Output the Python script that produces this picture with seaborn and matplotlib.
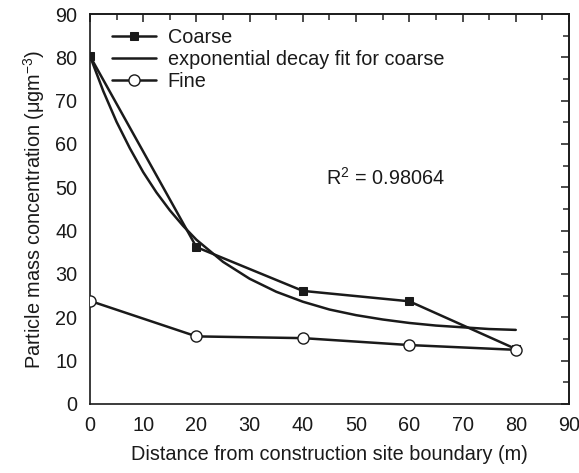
import matplotlib
matplotlib.use("Agg")
import matplotlib.pyplot as plt
from matplotlib.ticker import MultipleLocator
import seaborn as sns

# Measured concentrations vs distance from the site boundary
distance = [0, 20, 40, 60, 80]
coarse = [80.3, 36.2, 26.1, 23.7, 12.7]
fine = [23.8, 15.6, 15.2, 13.6, 12.5]

# Exponential decay fit for the coarse fraction, sampled along distance
fit_distance = [0, 2.5, 5, 7.5, 10, 12.5, 15, 17.5, 20, 25, 30, 35, 40,
                45, 50, 55, 60, 65, 70, 75, 80]
fit_coarse = [80.3, 72.2, 65.1, 59.0, 53.5, 48.8, 44.7, 41.1, 37.9, 32.8,
              28.9, 25.9, 23.6, 21.8, 20.5, 19.5, 18.7, 18.1, 17.7, 17.3, 17.1]

r2_text = "R$^{2}$ = 0.98064"

sns.set_style("white")
plt.rcParams["font.family"] = ["Liberation Sans", "DejaVu Sans"]
plt.rcParams["mathtext.fontset"] = "custom"
plt.rcParams["mathtext.rm"] = "Liberation Sans"
plt.rcParams["mathtext.it"] = "Liberation Sans"

FS = 14.3
INK = "#1a1a1a"

fig = plt.figure(figsize=(5.79, 4.73), dpi=100)
ax = fig.add_axes([0.1554, 0.1459, 0.8273, 0.8245])

lw = 1.8
sns.lineplot(x=distance, y=coarse, ax=ax, color=INK, lw=lw,
             marker="s", markersize=6, markerfacecolor=INK,
             markeredgecolor=INK, label="Coarse", zorder=3)
sns.lineplot(x=fit_distance, y=fit_coarse, ax=ax, color=INK, lw=lw,
             label="exponential decay fit for coarse", zorder=2)
sns.lineplot(x=distance, y=fine, ax=ax, color=INK, lw=lw,
             marker="o", markersize=8, markerfacecolor="white",
             markeredgecolor=INK, markeredgewidth=1.0,
             label="Fine", zorder=3)

ax.set_xlim(0, 90)
ax.set_ylim(0, 90)
ax.xaxis.set_major_locator(MultipleLocator(10))
ax.xaxis.set_minor_locator(MultipleLocator(5))
ax.yaxis.set_major_locator(MultipleLocator(10))
ax.yaxis.set_minor_locator(MultipleLocator(5))
ax.tick_params(which="major", direction="out", length=5, width=1.1,
               labelsize=FS, colors=INK, pad=4)
ax.tick_params(which="minor", direction="out", length=3, width=1.1)

# Mirrored ticks on the top and right edges, pointing inward
for side in ("top", "right"):
    if side == "top":
        sec = ax.secondary_xaxis("top")
        sec.xaxis.set_major_locator(MultipleLocator(10))
        sec.xaxis.set_minor_locator(MultipleLocator(5))
    else:
        sec = ax.secondary_yaxis("right")
        sec.yaxis.set_major_locator(MultipleLocator(10))
        sec.yaxis.set_minor_locator(MultipleLocator(5))
    sec.tick_params(which="major", direction="in", length=6, width=1.1,
                    labelsize=0, colors=INK)
    sec.tick_params(which="minor", direction="in", length=4, width=1.1)
    if side == "top":
        sec.set_xticklabels([])
    else:
        sec.set_yticklabels([])
    for sp in sec.spines.values():
        sp.set_linewidth(1.2)
        sp.set_color(INK)

for sp in ax.spines.values():
    sp.set_linewidth(1.2)
    sp.set_color(INK)
    sp.set_visible(True)

ax.set_xlabel("Distance from construction site boundary (m)", fontsize=FS,
              color=INK, labelpad=7)
ax.set_ylabel("Particle mass concentration (μgm$^{-3}$)", fontsize=FS,
              color=INK, labelpad=6)

ax.text(55.5, 52.2, r2_text, fontsize=FS, color=INK,
        ha="center", va="center")

leg = ax.legend(loc="upper left", bbox_to_anchor=(0.017, 1.0), frameon=False,
                fontsize=FS, handlelength=2.2, handletextpad=0.6,
                labelspacing=0.15, borderaxespad=0.3)
for t in leg.get_texts():
    t.set_color(INK)

fig.savefig("out.png", dpi=100)
